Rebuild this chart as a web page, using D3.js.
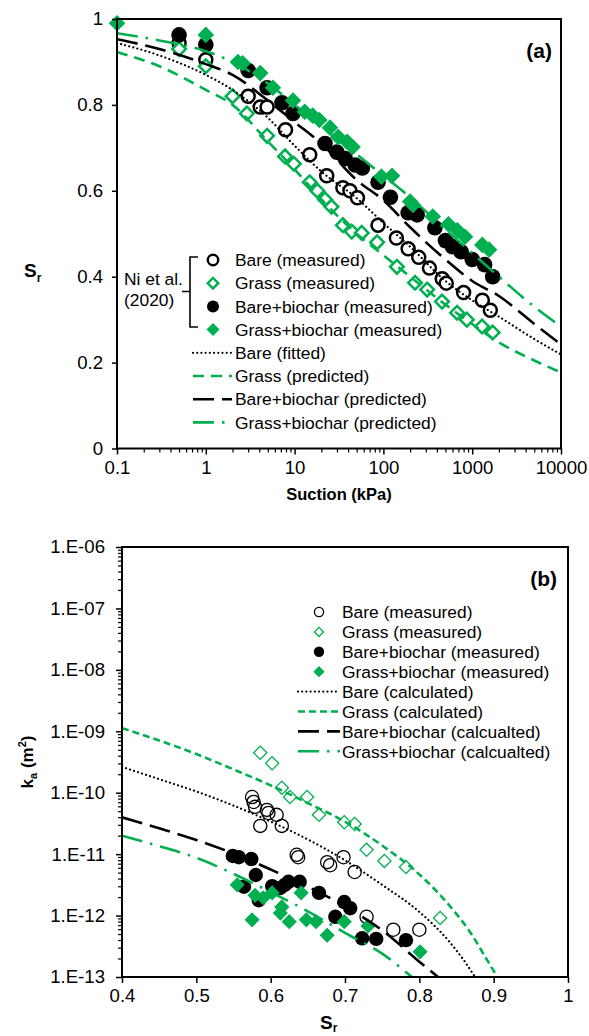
<!DOCTYPE html>
<html><head><meta charset="utf-8">
<script src="https://cdn.jsdelivr.net/npm/d3@7"></script>
<style>html,body{margin:0;padding:0;background:#fff}svg{display:block}</style>
</head><body>
<svg id="c" width="589" height="1036"></svg>
<script>
// ---------- DATA: panel (a)  [suction kPa, Sr] ----------
const aBareMeas = [[0.5,0.944],[1,0.905],[3.0,0.82],[4.1,0.795],[4.9,0.795],[7.9,0.742],[14.8,0.684],[23,0.635],[35,0.607],[42,0.6],[51,0.584],[87,0.52],[140,0.49],[190,0.465],[250,0.445],[330,0.42],[460,0.395],[510,0.385],[800,0.363],[1300,0.345],[1600,0.322]];
const aGrassMeas = [[0.5,0.93],[1,0.89],[2.0,0.82],[2.9,0.78],[4.9,0.728],[7.8,0.68],[9.8,0.663],[14.8,0.62],[18,0.6],[22,0.58],[26,0.563],[35,0.52],[44,0.505],[57,0.502],[85,0.48],[142,0.423],[227,0.386],[311,0.37],[457,0.342],[676,0.316],[870,0.30],[1290,0.284],[1700,0.27]];
const aBareBioMeas = [[0.5,0.963],[1,0.94],[3.0,0.88],[4.9,0.84],[7.2,0.805],[9.6,0.78],[22,0.71],[30,0.69],[37,0.675],[48,0.66],[58,0.653],[87,0.62],[120,0.585],[190,0.549],[240,0.544],[380,0.514],[500,0.484],[600,0.47],[750,0.458],[1000,0.44],[1380,0.428],[1700,0.40]];
const aGrassBioMeas = [[0.1,0.99],[1,0.963],[2.3,0.90],[2.6,0.897],[4.1,0.874],[5.7,0.84],[9.6,0.81],[13,0.784],[16,0.775],[19,0.765],[25,0.747],[31,0.725],[39,0.714],[45,0.702],[95,0.633],[125,0.635],[200,0.575],[215,0.567],[360,0.54],[540,0.522],[680,0.508],[830,0.493],[1300,0.474],[1550,0.463]];
const aBareFit = [[0.1,0.944],[0.3,0.915],[1,0.87],[2,0.835],[5,0.77],[10,0.705],[20,0.645],[50,0.583],[100,0.525],[200,0.47],[500,0.39],[1000,0.345],[2000,0.307],[5000,0.255],[10000,0.219]];
const aGrassPred = [[0.1,0.923],[0.3,0.89],[1,0.835],[2,0.8],[5,0.715],[10,0.65],[20,0.58],[50,0.5],[100,0.45],[200,0.4],[500,0.335],[1000,0.29],[2000,0.247],[5000,0.205],[10000,0.177]];
const aBareBioPred = [[0.1,0.953],[0.3,0.93],[1,0.895],[2,0.87],[5,0.81],[10,0.76],[20,0.71],[50,0.625],[100,0.578],[200,0.515],[500,0.44],[1000,0.39],[2000,0.355],[5000,0.29],[10000,0.242]];
const aGrassBioPred = [[0.1,0.967],[0.3,0.95],[1,0.925],[2,0.9],[5,0.85],[10,0.8],[20,0.75],[50,0.685],[100,0.635],[200,0.585],[500,0.51],[1000,0.455],[2000,0.4],[5000,0.33],[10000,0.284]];
const aXTicks = [0.1,1,10,100,1000,10000];
const aXTickLabels = ["0.1","1","10","100","1000","10000"];
const aYTicks = [0,0.2,0.4,0.6,0.8,1];
const aYTickLabels = ["0","0.2","0.4","0.6","0.8","1"];
const aLegend = ["Bare (measured)","Grass (measured)","Bare+biochar (measured)","Grass+biochar (measured)","Bare (fitted)","Grass (predicted)","Bare+biochar (predicted)","Grass+biochar (predicted)"];

// ---------- DATA: panel (b)  [Sr, log10(ka)] ----------
const bBareMeas = [[0.575,-10.07],[0.577,-10.15],[0.579,-10.23],[0.586,-10.54],[0.595,-10.28],[0.597,-10.33],[0.608,-10.36],[0.615,-10.54],[0.635,-11.01],[0.637,-11.05],[0.676,-11.13],[0.68,-11.18],[0.698,-11.05],[0.713,-11.29],[0.729,-12.02],[0.765,-12.23],[0.80,-12.23]];
const bGrassMeas = [[0.586,-9.35],[0.602,-9.52],[0.615,-9.92],[0.626,-10.07],[0.649,-10.07],[0.665,-10.36],[0.699,-10.48],[0.713,-10.51],[0.729,-10.93],[0.753,-11.11],[0.782,-11.21],[0.828,-12.04]];
const bBareBioMeas = [[0.549,-11.03],[0.557,-11.05],[0.574,-11.08],[0.58,-11.34],[0.564,-11.53],[0.584,-11.75],[0.602,-11.52],[0.613,-11.55],[0.619,-11.5],[0.624,-11.45],[0.639,-11.45],[0.665,-11.63],[0.687,-12.02],[0.699,-11.78],[0.707,-11.88],[0.723,-12.37],[0.742,-12.38],[0.782,-12.4]];
const bGrassBioMeas = [[0.555,-11.5],[0.575,-12.07],[0.579,-11.67],[0.59,-11.71],[0.602,-11.63],[0.615,-11.86],[0.613,-11.96],[0.625,-12.1],[0.641,-11.63],[0.648,-12.07],[0.661,-12.1],[0.676,-12.32],[0.699,-12.1],[0.731,-12.17],[0.801,-12.59]];
const bBareCalc = [[0.40,-9.58],[0.45,-9.78],[0.50,-9.98],[0.55,-10.21],[0.60,-10.47],[0.65,-10.76],[0.70,-11.1],[0.75,-11.5],[0.80,-11.94],[0.84,-12.42],[0.86,-12.73],[0.875,-13.0]];
const bGrassCalc = [[0.40,-8.95],[0.45,-9.15],[0.50,-9.37],[0.55,-9.62],[0.60,-9.88],[0.65,-10.17],[0.70,-10.47],[0.75,-10.86],[0.80,-11.33],[0.84,-11.83],[0.87,-12.3],[0.89,-12.7],[0.905,-13.0]];
const bBareBioCalc = [[0.40,-10.40],[0.45,-10.58],[0.50,-10.77],[0.55,-10.99],[0.60,-11.25],[0.65,-11.53],[0.70,-11.85],[0.75,-12.24],[0.80,-12.75],[0.825,-13.0]];
const bGrassBioCalc = [[0.40,-10.70],[0.45,-10.87],[0.50,-11.06],[0.55,-11.32],[0.60,-11.62],[0.65,-11.93],[0.70,-12.28],[0.75,-12.62],[0.79,-13.0]];
const bXTicks = [0.4,0.5,0.6,0.7,0.8,0.9,1];
const bXTickLabels = ["0.4","0.5","0.6","0.7","0.8","0.9","1"];
const bYTicks = [1e-13,1e-12,1e-11,1e-10,1e-9,1e-8,1e-7,1e-6];
const bYTickLabels = ["1.E-13","1.E-12","1.E-11","1.E-10","1.E-09","1.E-08","1.E-07","1.E-06"];
const bLegend = ["Bare (measured)","Grass (measured)","Bare+biochar (measured)","Grass+biochar (measured)","Bare (calculated)","Grass (calculated)","Bare+biochar (calcualted)","Grass+biochar (calcualted)"];

// ---------- DRAWING ----------
const GREEN = "#00B050";
const FONT = "'Liberation Sans', Arial, Helvetica, sans-serif";
const svg = d3.select("#c");
svg.append("rect").attr("width",589).attr("height",1036).attr("fill","#fff");

const styles = {
  dot:     {color:"#000", width:2.2, dash:"0.01 4.2", cap:"round"},
  dash:    {color:GREEN, width:2.6, dash:"11 7", cap:"butt"},
  long:    {color:"#000", width:2.6, dash:"21 8", cap:"butt"},
  dashdot: {color:GREEN, width:2.6, dash:"21 8 2.5 8", cap:"butt"}
};
const stylesB = {
  dot:     {color:"#000", width:2.2, dash:"0.01 4.2", cap:"round"},
  dash:    {color:GREEN, width:2.6, dash:"7 4", cap:"butt"},
  long:    {color:"#000", width:2.6, dash:"21 8", cap:"butt"},
  dashdot: {color:GREEN, width:2.6, dash:"21 8 2.5 8", cap:"butt"}
};

function diamond(halfDiag){ return d3.symbol(d3.symbolSquare, 2*halfDiag*halfDiag)(); }
function marker(g, kind, x, y, sz, sw, fillOpen){
  if(kind==="oc") g.append("circle").attr("cx",x).attr("cy",y).attr("r",sz).attr("fill",fillOpen).attr("stroke","#000").attr("stroke-width",sw);
  if(kind==="fc") g.append("circle").attr("cx",x).attr("cy",y).attr("r",sz).attr("fill","#000");
  if(kind==="od") g.append("path").attr("d",diamond(sz)).attr("transform",`translate(${x},${y}) rotate(45)`).attr("fill",fillOpen).attr("stroke",GREEN).attr("stroke-width",sw);
  if(kind==="fd") g.append("path").attr("d",diamond(sz)).attr("transform",`translate(${x},${y}) rotate(45)`).attr("fill",GREEN);
}
function styled(sel, st){
  return sel.attr("fill","none").attr("stroke",st.color).attr("stroke-width",st.width).attr("stroke-dasharray",st.dash).attr("stroke-linecap",st.cap);
}

// ===== Panel (a) =====
const xA = d3.scaleLog().domain([0.1,10000]).range([117,561]);
const yA = d3.scaleLinear().domain([0,1]).range([448.5,19]);
const gA = svg.append("g");
svg.append("clipPath").attr("id","clipA").append("rect").attr("x",117).attr("y",19).attr("width",444).attr("height",429.5);

const ptsA = gA.append("g");
const aMarkers = [
  {d:aBareMeas, k:"oc", s:6.5, w:2.5},
  {d:aGrassMeas, k:"od", s:6.8, w:2.5},
  {d:aBareBioMeas, k:"fc", s:7.8, w:0},
  {d:aGrassBioMeas, k:"fd", s:8.3, w:0}
];
aMarkers.forEach(m => m.d.forEach(p => marker(ptsA, m.k, xA(p[0]), yA(p[1]), m.s, m.w, "#fff")));

const lineA = d3.line().x(d=>xA(d[0])).y(d=>yA(d[1])).curve(d3.curveMonotoneX);
const linesA = gA.append("g").attr("clip-path","url(#clipA)");
[[aBareFit,"dot"],[aGrassPred,"dash"],[aBareBioPred,"long"],[aGrassBioPred,"dashdot"]].forEach(([d,s]) => {
  styled(linesA.append("path").attr("d",lineA(d)), styles[s]);
});

// axes (a)
const axA = gA.append("g").attr("font-family",FONT);
axA.append("g").attr("transform","translate(0,448.5)")
  .call(d3.axisBottom(xA).tickValues(aXTicks).tickFormat((d,i)=>aXTickLabels[i]).tickSize(6).tickPadding(6))
  .call(g=>{g.select(".domain").remove(); g.selectAll("text").attr("font-size",18.6).attr("fill","#000").attr("font-family",FONT); g.selectAll("line").attr("stroke","#000").attr("stroke-width",1.5);});
const minorA = [];
for(let e=-1;e<4;e++) for(let m=2;m<10;m++) minorA.push(m*Math.pow(10,e));
axA.append("g").attr("transform","translate(0,448.5)")
  .call(d3.axisBottom(xA).tickValues(minorA).tickFormat("").tickSize(4))
  .call(g=>{g.select(".domain").remove(); g.selectAll("line").attr("stroke","#000").attr("stroke-width",1.2);});
axA.append("g").attr("transform","translate(117,0)")
  .call(d3.axisLeft(yA).tickValues(aYTicks).tickFormat((d,i)=>aYTickLabels[i]).tickSize(5).tickPadding(9))
  .call(g=>{g.select(".domain").remove(); g.selectAll("text").attr("font-size",18.6).attr("fill","#000").attr("font-family",FONT); g.selectAll("line").attr("stroke","#000").attr("stroke-width",1.5);});
gA.append("rect").attr("x",117).attr("y",19).attr("width",444).attr("height",429.5).attr("fill","none").attr("stroke","#000").attr("stroke-width",2);

gA.append("text").attr("x",339).attr("y",500).attr("text-anchor","middle").attr("font-family",FONT).attr("font-weight","bold").attr("font-size",16.5).text("Suction (kPa)");
const srA = gA.append("text").attr("x",24).attr("y",277).attr("font-family",FONT).attr("font-weight","bold").attr("font-size",19);
srA.append("tspan").text("S");
srA.append("tspan").attr("font-size",12).attr("dy",5).text("r");
gA.append("text").attr("x",552).attr("y",58).attr("text-anchor","end").attr("font-family",FONT).attr("font-weight","bold").attr("font-size",21).text("(a)");

// legend (a)
const legA = gA.append("g").attr("font-family",FONT).attr("font-size",17.4);
const legAk = ["oc","od","fc","fd"], legAs = [5.2,5.3,6,6.5];
const legALines = ["dot","dash","long","dashdot"];
aLegend.forEach((t,i)=>{
  const cy = 260 + i*23.2;
  if(i<4) marker(legA, legAk[i], 213, cy, legAs[i], 2.4, "#fff");
  else styled(legA.append("line").attr("x1",193).attr("x2",232).attr("y1",cy).attr("y2",cy), styles[legALines[i-4]]);
  legA.append("text").attr("x",235).attr("y",cy+6.2).text(t);
});
legA.append("path").attr("d",`M198,257 H190 V327 H198 M190,291.5 H182`).attr("fill","none").attr("stroke","#000").attr("stroke-width",1.6);
legA.append("text").attr("x",124).attr("y",285).text("Ni et al.");
legA.append("text").attr("x",124).attr("y",306).text("(2020)");

// ===== Panel (b) =====
const xB = d3.scaleLinear().domain([0.4,1]).range([122,568]);
const yB = d3.scaleLog().domain([1e-13,1e-6]).range([977,547]);
const gB = svg.append("g");
svg.append("clipPath").attr("id","clipB").append("rect").attr("x",122).attr("y",547).attr("width",446).attr("height",430);

const ptsB = gB.append("g");
const bMarkers = [
  {d:bBareMeas, k:"oc", s:6.6, w:1.3},
  {d:bGrassMeas, k:"od", s:6.6, w:1.3},
  {d:bBareBioMeas, k:"fc", s:7.2, w:0},
  {d:bGrassBioMeas, k:"fd", s:7.6, w:0}
];
bMarkers.forEach(m => m.d.forEach(p => marker(ptsB, m.k, xB(p[0]), yB(Math.pow(10,p[1])), m.s, m.w, "none")));

const lineB = d3.line().x(d=>xB(d[0])).y(d=>yB(Math.pow(10,d[1]))).curve(d3.curveMonotoneX);
const linesB = gB.append("g").attr("clip-path","url(#clipB)");
[[bBareCalc,"dot"],[bGrassCalc,"dash"],[bBareBioCalc,"long"],[bGrassBioCalc,"dashdot"]].forEach(([d,s]) => {
  styled(linesB.append("path").attr("d",lineB(d)), stylesB[s]);
});

const axB = gB.append("g");
axB.append("g").attr("transform","translate(0,977)")
  .call(d3.axisBottom(xB).tickValues(bXTicks).tickFormat((d,i)=>bXTickLabels[i]).tickSize(6).tickPadding(6))
  .call(g=>{g.select(".domain").remove(); g.selectAll("text").attr("font-size",18.6).attr("fill","#000").attr("font-family",FONT); g.selectAll("line").attr("stroke","#000").attr("stroke-width",1.5);});
const minorB = [];
for(let e=-13;e<-6;e++) for(let m=2;m<10;m++) minorB.push(m*Math.pow(10,e));
axB.append("g").attr("transform","translate(123,0)")
  .call(d3.axisLeft(yB).tickValues(minorB).tickFormat("").tickSize(5))
  .call(g=>{g.select(".domain").remove(); g.selectAll("line").attr("stroke","#000").attr("stroke-width",1.2);});
axB.append("g").attr("transform","translate(122,0)")
  .call(d3.axisLeft(yB).tickValues(bYTicks).tickFormat((d,i)=>bYTickLabels[i]).tickSize(6).tickPadding(11))
  .call(g=>{g.select(".domain").remove(); g.selectAll("text").attr("font-size",18.6).attr("fill","#000").attr("font-family",FONT); g.selectAll("line").attr("stroke","#000").attr("stroke-width",1.5);});
gB.append("rect").attr("x",122).attr("y",547).attr("width",446).attr("height",430).attr("fill","none").attr("stroke","#000").attr("stroke-width",2);

const srB = gB.append("text").attr("x",320).attr("y",1029).attr("font-family",FONT).attr("font-weight","bold").attr("font-size",19);
srB.append("tspan").text("S");
srB.append("tspan").attr("font-size",12).attr("dy",3).text("r");
const kaB = gB.append("text").attr("transform","translate(33,762) rotate(-90)").attr("text-anchor","middle").attr("font-family",FONT).attr("font-weight","bold").attr("font-size",17);
kaB.append("tspan").text("k");
kaB.append("tspan").attr("font-size",11).attr("dy",4).text("a");
kaB.append("tspan").attr("dy",-4).text(" (m");
kaB.append("tspan").attr("font-size",11).attr("dy",-7).text("2");
kaB.append("tspan").attr("dy",7).text(")");
gB.append("text").attr("x",557).attr("y",586).attr("text-anchor","end").attr("font-family",FONT).attr("font-weight","bold").attr("font-size",21).text("(b)");

const legB = gB.append("g").attr("font-family",FONT).attr("font-size",17.4);
const legBs = [4.6,4.6,5.2,5.6];
aLegend.forEach((_,i)=>{
  const cy = 612 + i*19.9;
  if(i<4) marker(legB, legAk[i], 319, cy, legBs[i], 1.3, "none");
  else styled(legB.append("line").attr("x1",298).attr("x2",340).attr("y1",cy).attr("y2",cy), stylesB[legALines[i-4]]);
  legB.append("text").attr("x",342).attr("y",cy+6.2).text(bLegend[i]);
});
</script>
</body></html>
